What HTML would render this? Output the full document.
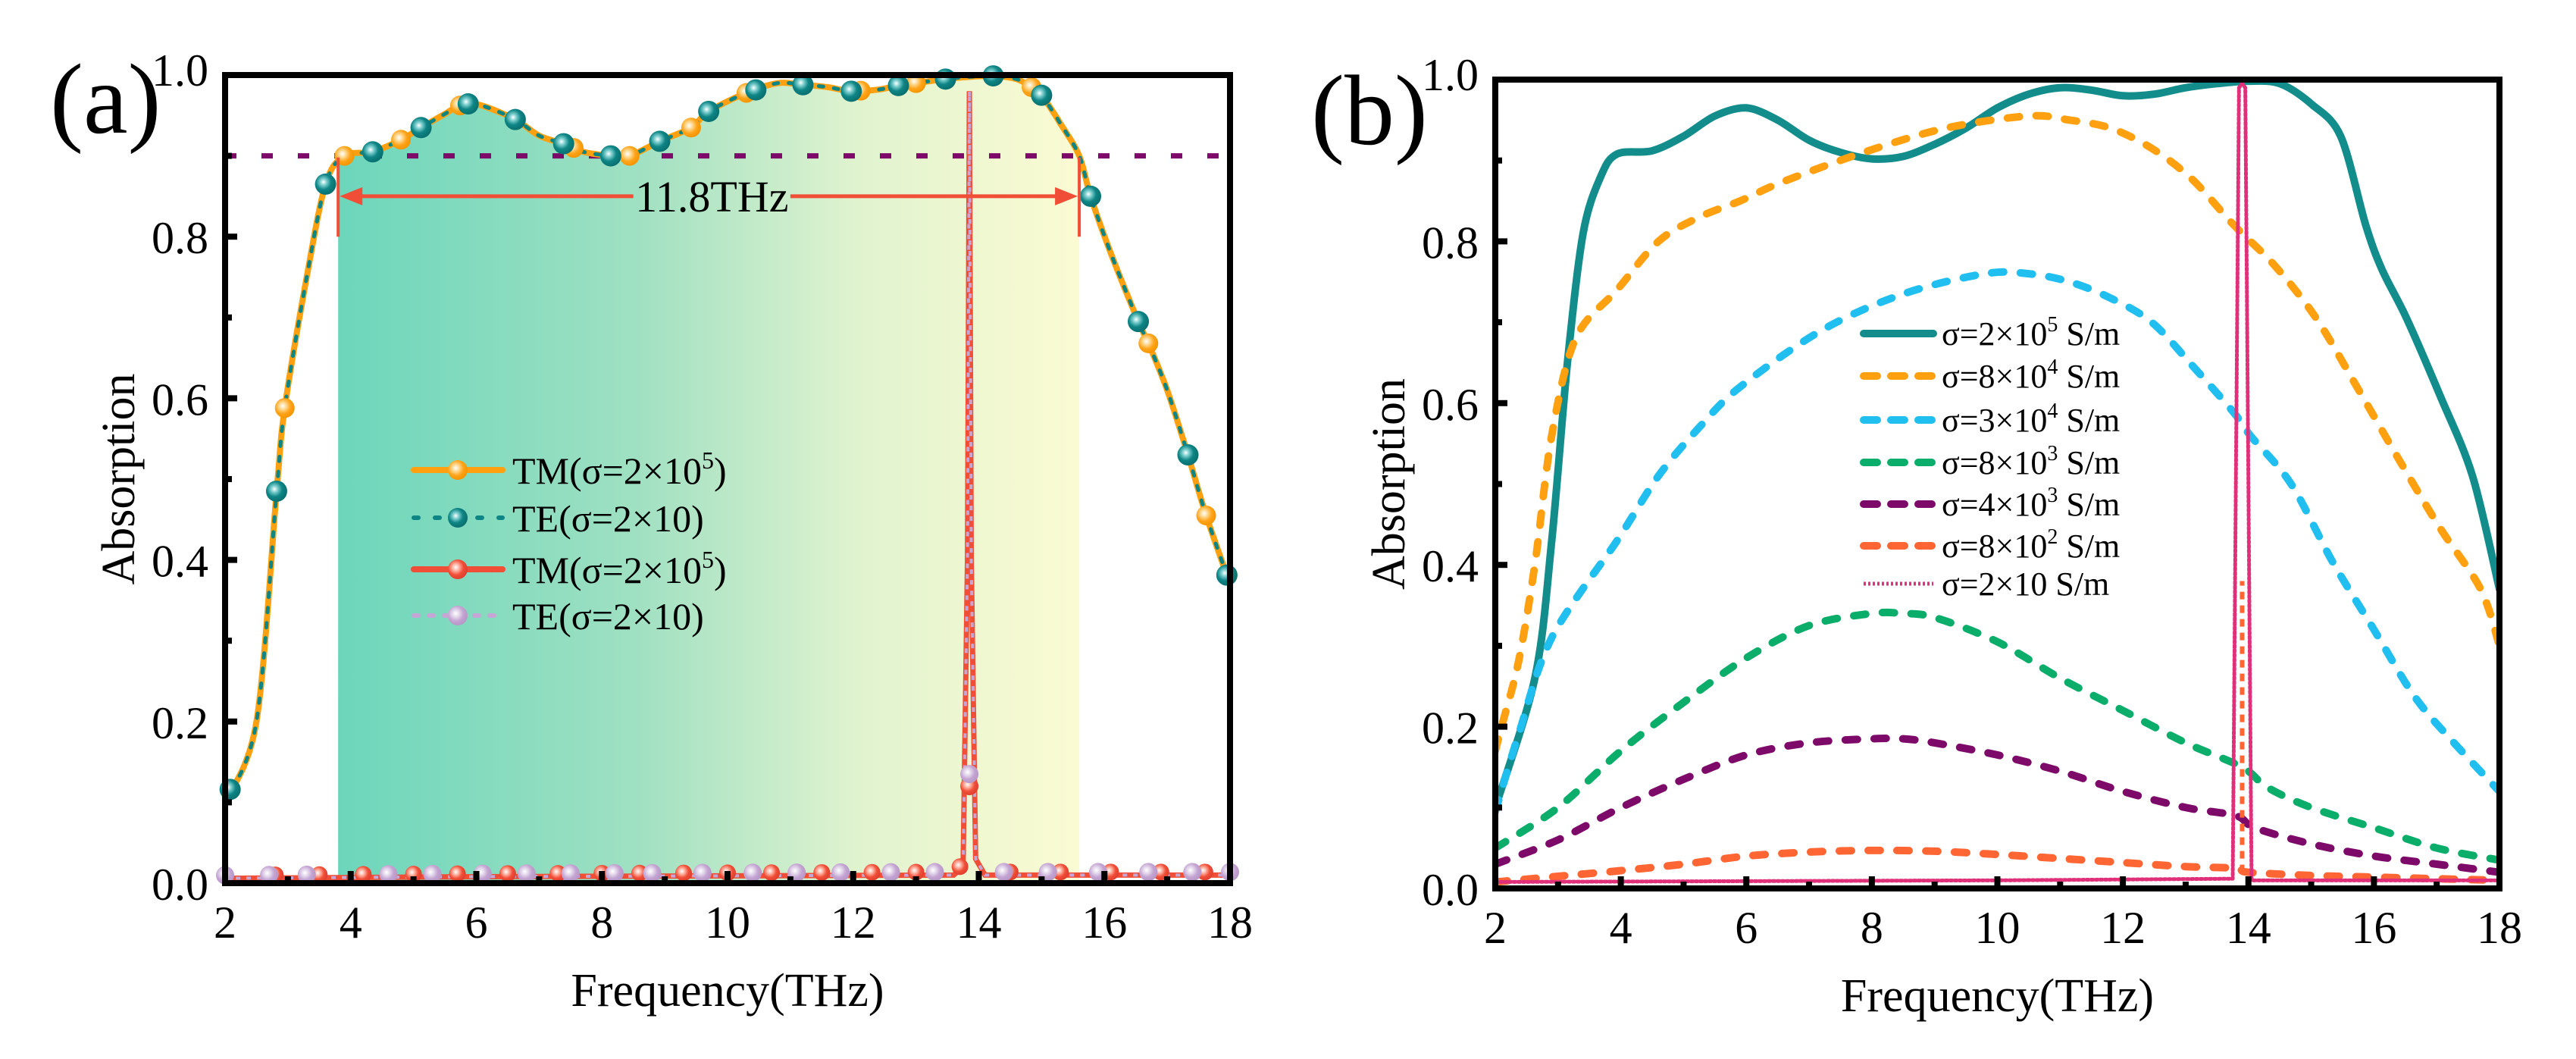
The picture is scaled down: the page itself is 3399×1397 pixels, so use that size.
<!DOCTYPE html>
<html><head><meta charset="utf-8">
<style>
html,body{margin:0;padding:0;background:#fff;}
svg{display:block;font-family:"Liberation Serif","DejaVu Serif",serif;}
svg text{font-family:"Liberation Serif","DejaVu Serif",serif;}
</style></head>
<body>
<svg id="fig" width="3399" height="1397" viewBox="0 0 3399 1397" font-family="Liberation Serif, DejaVu Serif, serif" xmlns="http://www.w3.org/2000/svg">
<defs>
<linearGradient id="bandGrad" gradientUnits="userSpaceOnUse" x1="446" y1="0" x2="1424" y2="0">
<stop offset="0" stop-color="#6cd6bb"/><stop offset="0.4" stop-color="#9fe0c2"/><stop offset="0.7" stop-color="#e0f3cf"/><stop offset="1" stop-color="#fbfbd3"/>
</linearGradient>
<radialGradient id="gTeal" cx="0.4" cy="0.4" r="0.6"><stop offset="0" stop-color="#ffffff"/><stop offset="0.25" stop-color="#7fd0d0"/><stop offset="0.6" stop-color="#0e8585"/><stop offset="1" stop-color="#0a7070"/></radialGradient>
<radialGradient id="gOrange" cx="0.4" cy="0.4" r="0.6"><stop offset="0" stop-color="#ffffff"/><stop offset="0.3" stop-color="#ffd890"/><stop offset="0.65" stop-color="#ffa41a"/><stop offset="1" stop-color="#f59500"/></radialGradient>
<radialGradient id="gRed" cx="0.4" cy="0.4" r="0.6"><stop offset="0" stop-color="#ffffff"/><stop offset="0.3" stop-color="#ffb0a0"/><stop offset="0.65" stop-color="#f04e37"/><stop offset="1" stop-color="#e04030"/></radialGradient>
<radialGradient id="gLilac" cx="0.4" cy="0.4" r="0.6"><stop offset="0" stop-color="#ffffff"/><stop offset="0.3" stop-color="#e4d8ec"/><stop offset="0.65" stop-color="#c3a3d1"/><stop offset="1" stop-color="#b898c8"/></radialGradient>
</defs>
<g id="panelA"></g>
<g id="panelB"></g>
</svg>
<script>
// ---------- Panel (a) data ----------
const aCurveX = [2,2.5,2.82,2.95,3.3,3.6,3.9,4.35,4.8,5.12,5.5,5.8,6.1,6.62,7.0,7.39,7.7,8.14,8.44,8.92,9.42,9.7,10.3,10.8,11.2,11.6,11.97,12.4,12.72,13.0,13.47,13.9,14.23,14.6,14.84,15.0,15.3,15.6,15.78,16.1,16.54,16.7,17.0,17.33,17.62,18];
const aCurveY = [0.1,0.2,0.485,0.588,0.75,0.865,0.9,0.905,0.92,0.935,0.952,0.965,0.962,0.945,0.925,0.915,0.905,0.9,0.9,0.918,0.935,0.955,0.978,0.99,0.988,0.985,0.98,0.982,0.987,0.99,0.995,0.998,0.999,0.995,0.985,0.975,0.94,0.9,0.85,0.78,0.695,0.668,0.61,0.53,0.455,0.37];
const aTealMarkX = [2.08,2.82,3.6,4.35,5.12,5.87,6.62,7.39,8.14,8.92,9.7,10.45,11.2,11.97,12.72,13.47,14.23,15.0,15.78,16.54,17.33,17.95];
const aOrangeMarkX = [2.08,2.95,3.9,4.8,5.74,7.55,8.44,9.42,10.3,12.12,13.0,14.84,16.7,17.62];
const aLowX = [2,6,10,13.6,13.75,13.82,13.85,13.88,13.95,14.1,18];
const aLowY = [0.006,0.008,0.009,0.01,0.02,0.4,0.98,0.4,0.03,0.01,0.01];
const aRedMarkX = [2.8,3.5,4.2,5.0,5.7,6.5,7.3,8.0,8.6,9.3,10.0,10.7,11.5,12.3,13.0,13.7,14.5,15.3,16.1,16.9,17.6];
const aLilacMarkX = [2.0,2.7,3.3,4.6,5.3,6.1,6.8,7.5,8.2,8.8,9.6,10.4,11.1,11.8,12.6,13.3,14.4,15.1,15.9,16.7,17.4,18];
const aSpikeMarkX = [13.85,13.85];
const aSpikeMarkY = [0.12,0.135];
const aThreshold = 0.9;
const aBand = [3.8,15.6];
const aBandLabel = "11.8THz";
const xTicks = [2,4,6,8,10,12,14,16,18];
const yTicks = [0,0.2,0.4,0.6,0.8,1.0];
const yTickLabels = ["0.0","0.2","0.4","0.6","0.8","1.0"];

// ---------- Panel (b) data ----------
const bSeriesNames = ["σ=2×10|5| S/m","σ=8×10|4| S/m","σ=3×10|4| S/m","σ=8×10|3| S/m","σ=4×10|3| S/m","σ=8×10|2| S/m","σ=2×10 S/m"];
const b1X = [2,2.63,2.9,3.15,3.4,3.68,3.94,4.5,5,5.5,6,6.5,7,7.5,8,8.5,9,9.5,10,10.5,11,11.5,12,12.5,13,13.5,14,14.5,15,15.47,15.87,16.13,16.52,17.05,17.57,18];
const b1Y = [0.1,0.26,0.43,0.65,0.81,0.88,0.908,0.912,0.93,0.955,0.965,0.95,0.925,0.91,0.902,0.905,0.92,0.94,0.965,0.982,0.99,0.987,0.98,0.982,0.99,0.995,0.998,0.995,0.97,0.93,0.82,0.765,0.705,0.61,0.51,0.37];
const b2X = [2,2.1,2.37,2.63,2.9,3.28,3.94,4.6,5.25,5.9,6.56,7.87,9.18,10.5,11.15,11.8,12.46,13.1,13.77,14.42,15.08,15.73,16.4,17.05,17.7,18];
const b2Y = [0.17,0.2,0.28,0.4,0.56,0.68,0.74,0.8,0.83,0.85,0.873,0.91,0.94,0.955,0.95,0.94,0.915,0.877,0.82,0.77,0.705,0.62,0.53,0.446,0.37,0.3];
const b3X = [2,2.37,2.9,3.94,4.6,5.25,5.9,7.2,8.5,9.8,10.5,11.15,11.8,12.46,13.1,13.77,14.03,14.68,15.34,16,16.65,17.3,18];
const b3Y = [0.095,0.19,0.31,0.43,0.51,0.57,0.62,0.69,0.735,0.76,0.76,0.75,0.73,0.7,0.647,0.588,0.56,0.5,0.404,0.32,0.237,0.178,0.12];
const b4X = [2,3,4,5,6,7,8,8.5,9,10,11,12,13,13.9,14.3,15,16,17,18];
const b4Y = [0.05,0.1,0.17,0.23,0.285,0.325,0.34,0.34,0.335,0.305,0.26,0.22,0.18,0.15,0.125,0.1,0.075,0.05,0.035];
const b5X = [2,3,4,5,6,7,8,8.5,9,10,11,12,13,13.8,14.1,15,16,17,18];
const b5Y = [0.03,0.06,0.1,0.135,0.165,0.18,0.185,0.185,0.18,0.165,0.145,0.12,0.1,0.09,0.075,0.055,0.04,0.03,0.02];
const b6X = [2,3,4,5,6,7,8,9,10,11,12,13,13.8,14,15,16,17,18];
const b6Y = [0.008,0.015,0.022,0.03,0.04,0.045,0.047,0.046,0.042,0.037,0.032,0.027,0.025,0.02,0.016,0.014,0.012,0.01];
const b7X = [2,10,13.75,13.85,13.9,13.95,14.05,18];
const b7Y = [0.008,0.01,0.012,0.99,0.995,0.99,0.01,0.01];

const NS = "http://www.w3.org/2000/svg";
const FONT = "Liberation Serif, DejaVu Serif, serif";
function mk(tag, attrs, parent){
  const e = document.createElementNS(NS, tag);
  for (const k in attrs) e.setAttribute(k, attrs[k]);
  if (tag === "text") e.setAttribute("font-family", FONT);
  parent.appendChild(e);
  return e;
}
function makeAxes(x0,x1,y0,y1){
  return { sx: f => x0 + (f-2)/16*(x1-x0), sy: v => y0 - v*(y0-y1) };
}
function smoothPath(pts){
  if (pts.length < 2) return "";
  let d = "M" + pts[0][0].toFixed(1) + "," + pts[0][1].toFixed(1);
  for (let i=0;i<pts.length-1;i++){
    const p0 = pts[Math.max(0,i-1)], p1 = pts[i], p2 = pts[i+1], p3 = pts[Math.min(pts.length-1,i+2)];
    const t = 0.16;
    const c1 = [p1[0]+(p2[0]-p0[0])*t, p1[1]+(p2[1]-p0[1])*t];
    const c2 = [p2[0]-(p3[0]-p1[0])*t, p2[1]-(p3[1]-p1[1])*t];
    d += " C"+c1[0].toFixed(1)+","+c1[1].toFixed(1)+" "+c2[0].toFixed(1)+","+c2[1].toFixed(1)+" "+p2[0].toFixed(1)+","+p2[1].toFixed(1);
  }
  return d;
}
function interp(xs, ys, x){
  for (let i=0;i<xs.length-1;i++){
    if (x>=xs[i] && x<=xs[i+1]) return ys[i] + (ys[i+1]-ys[i])*(x-xs[i])/(xs[i+1]-xs[i]);
  }
  return x<xs[0]?ys[0]:ys[ys.length-1];
}
function drawFrame(g, ax, x0,x1,y0,y1, panelLabel, labX, labY){
  xTicks.forEach((t,i)=>{
    const X = ax.sx(t);
    const tk = mk("line",{x1:X,y1:y0,x2:X,y2:y0-16,stroke:"#000","stroke-width":8},g);
    
    
    const lb = mk("text",{x:X,y:y0+72,"font-size":60,"text-anchor":"middle",fill:"#000"},g);
    lb.textContent = String(t);
    
    
    if (i<xTicks.length-1){
      const Xm = ax.sx(t+1);
      const mt = mk("line",{x1:Xm,y1:y0,x2:Xm,y2:y0-9,stroke:"#000","stroke-width":8},g);
      
      
    }
  });
  yTicks.forEach((t,i)=>{
    const Y = ax.sy(t);
    const tk = mk("line",{x1:x0,y1:Y,x2:x0+16,y2:Y,stroke:"#000","stroke-width":8},g);
    
    
    const lb = mk("text",{x:x0-22,y:(i===yTicks.length-1? Y+14 : Y+22),"font-size":60,"text-anchor":"end",fill:"#000"},g);
    lb.textContent = yTickLabels[i];
    
    
    if (i<yTicks.length-1){
      const Ym = ax.sy(t+0.1);
      const mt = mk("line",{x1:x0,y1:Ym,x2:x0+9,y2:Ym,stroke:"#000","stroke-width":8},g);
      
      
    }
  });
  const fr = mk("rect",{x:x0,y:y1,width:x1-x0,height:y0-y1,fill:"none",stroke:"#000","stroke-width":8},g);
  
  
  const xt = mk("text",{x:(x0+x1)/2,y:y0+162,"font-size":62,"text-anchor":"middle",fill:"#000"},g);
  xt.textContent = "Frequency(THz)";
  
  
  const yt = mk("text",{x:0,y:0,"font-size":62,"text-anchor":"middle",fill:"#000",transform:"translate("+(x0-120)+","+((y0+y1)/2)+") rotate(-90)"},g);
  yt.textContent = "Absorption";
  
  
  const pl = mk("text",{x:labX,y:labY,"font-size":132,fill:"#000"},g);
  pl.textContent = panelLabel;
  
  
}
function ball(g, X, Y, grad, r){
  const c = mk("circle",{cx:X,cy:Y,r:r,fill:"url(#"+grad+")"},g);
  
  
  return c;
}

// ================= Panel A =================
(function(){
  const g = document.getElementById("panelA");
  const x0=297,x1=1623,y0=1165,y1=99;
  const ax = makeAxes(x0,x1,y0,y1);
  const bx = [aBand[0]].concat(aCurveX.filter(x=>x>aBand[0]&&x<aBand[1])).concat([aBand[1]]);
  const bpts = bx.map(x=>[ax.sx(x), ax.sy(interp(aCurveX,aCurveY,x))]);
  let d = smoothPath(bpts) + " L"+ax.sx(aBand[1])+","+y0+" L"+ax.sx(aBand[0])+","+y0+" Z";
  const band = mk("path",{d:d,fill:"url(#bandGrad)"},g);
  
  
  const th = mk("line",{x1:x0,y1:ax.sy(aThreshold),x2:x1,y2:ax.sy(aThreshold),stroke:"#7d0a68","stroke-width":7,"stroke-dasharray":"15 33"},g);
  
  
  const pts = aCurveX.map((x,i)=>[ax.sx(x),ax.sy(aCurveY[i])]);
  const tm = mk("path",{d:smoothPath(pts),fill:"none",stroke:"#ffa010","stroke-width":8,"stroke-linejoin":"round"},g);
  
  
  const te = mk("path",{d:smoothPath(pts),fill:"none",stroke:"#0e8585","stroke-width":5,"stroke-dasharray":"6 14","stroke-linecap":"round"},g);
  
  
  aOrangeMarkX.forEach(x=>ball(g,ax.sx(x),ax.sy(interp(aCurveX,aCurveY,x)),"gOrange",13));
  aTealMarkX.forEach(x=>ball(g,ax.sx(x),ax.sy(interp(aCurveX,aCurveY,x)),"gTeal",14));
  const lp = aLowX.map((x,i)=>[ax.sx(x),ax.sy(aLowY[i])]);
  const lr = mk("polyline",{points:lp.map(p=>p.join(",")).join(" "),fill:"none",stroke:"#f04e37","stroke-width":7},g);
  
  
  const ll = mk("polyline",{points:lp.map(p=>p.join(",")).join(" "),fill:"none",stroke:"#c6a6d4","stroke-width":4,"stroke-dasharray":"6 8"},g);
  
  
  aRedMarkX.forEach(x=>ball(g,ax.sx(x),ax.sy(interp(aLowX,aLowY,x))-4,"gRed",11));
  aLilacMarkX.forEach(x=>ball(g,ax.sx(x),ax.sy(interp(aLowX,aLowY,x))-4,"gLilac",12));
  ball(g,ax.sx(aSpikeMarkX[0]),ax.sy(aSpikeMarkY[0]),"gRed",12);
  ball(g,ax.sx(aSpikeMarkX[1]),ax.sy(aSpikeMarkY[1]),"gLilac",12);
  const ay = ax.sy(0.85), lx = ax.sx(aBand[0]), rx = ax.sx(aBand[1]);
  const ann = mk("g",{},g);
  
  
  mk("line",{x1:lx,y1:ax.sy(0.898),x2:lx,y2:ax.sy(0.8),stroke:"#f04e37","stroke-width":4},ann);
  mk("line",{x1:rx,y1:ax.sy(0.898),x2:rx,y2:ax.sy(0.8),stroke:"#f04e37","stroke-width":4},ann);
  mk("line",{x1:lx+20,y1:ay,x2:ax.sx(8.5),y2:ay,stroke:"#f04e37","stroke-width":5},ann);
  mk("line",{x1:ax.sx(11.0),y1:ay,x2:rx-20,y2:ay,stroke:"#f04e37","stroke-width":5},ann);
  mk("polygon",{points:(lx+2)+","+ay+" "+(lx+32)+","+(ay-12)+" "+(lx+32)+","+(ay+12),fill:"#f04e37"},ann);
  mk("polygon",{points:(rx-2)+","+ay+" "+(rx-32)+","+(ay-12)+" "+(rx-32)+","+(ay+12),fill:"#f04e37"},ann);
  const at = mk("text",{x:ax.sx(9.75),y:ay+20,"font-size":58,"text-anchor":"middle",fill:"#000"},ann);
  at.textContent = aBandLabel;
  const lg = mk("g",{},g);
  
  
  const legY = [620,683,751,812];
  const legCols = ["#ffa010","#0e8585","#f04e37","#c6a6d4"];
  const legGrad = ["gOrange","gTeal","gRed","gLilac"];
  const legDash = ["none","6 22","none","6 14"];
  const legTxt = [["TM(σ=2×10","5",")"],["TE(σ=2×10)","",""],["TM(σ=2×10","5",")"],["TE(σ=2×10)","",""]];
  legY.forEach((Y,i)=>{
    const e = mk("g",{},lg);
    
    
    mk("line",{x1:546,y1:Y,x2:663,y2:Y,stroke:legCols[i],"stroke-width":(legDash[i]==="none"?8:6),"stroke-dasharray":legDash[i],"stroke-linecap":"round"},e);
    mk("circle",{cx:604,cy:Y,r:13,fill:"url(#"+legGrad[i]+")"},e);
    const t = mk("text",{x:676,y:Y+18,"font-size":50,fill:"#000"},e);
    t.textContent = legTxt[i][0];
    if (legTxt[i][1]){
      const s = mk("tspan",{dy:-20,"font-size":32},t); s.textContent = legTxt[i][1];
      const s2 = mk("tspan",{dy:20,"font-size":50},t); s2.textContent = legTxt[i][2];
    }
  });
  drawFrame(g, ax, x0,x1,y0,y1, "(a)", 66, 175);
})();

// ================= Panel B =================
(function(){
  const g = document.getElementById("panelB");
  const x0=1973,x1=3298,y0=1172,y1=105;
  const ax = makeAxes(x0,x1,y0,y1);
  const clip = mk("clipPath",{id:"clipB"},g);
  mk("rect",{x:x0,y:y1,width:x1-x0,height:y0-y1},clip);
  const series = [
    {x:b1X,y:b1Y,c:"#138c8c",dash:"none",w:10,name:"series-2e5"},
    {x:b2X,y:b2Y,c:"#ffa010",dash:"16 22",w:10,name:"series-8e4"},
    {x:b3X,y:b3Y,c:"#20bff0",dash:"16 22",w:10,name:"series-3e4"},
    {x:b4X,y:b4Y,c:"#0aad6a",dash:"16 22",w:10,name:"series-8e3"},
    {x:b5X,y:b5Y,c:"#7d0a68",dash:"16 22",w:10,name:"series-4e3"},
    {x:b6X,y:b6Y,c:"#ff6633",dash:"16 22",w:10,name:"series-8e2"},
    {x:b7X,y:b7Y,c:"#e0307a",dash:"3 3",w:5,name:"series-2e1"}
  ];
  const cg = mk("g",{"clip-path":"url(#clipB)"},g);
  series.forEach(s=>{
    const pts = s.x.map((x,i)=>[ax.sx(x),ax.sy(s.y[i])]);
    const d = s.name==="series-2e1" ? "M"+pts.map(p=>p.join(",")).join(" L") : smoothPath(pts);
    const p = mk("path",{d:d,fill:"none",stroke:s.c,"stroke-width":s.w,"stroke-dasharray":s.dash,"stroke-linecap":"round","stroke-linejoin":"round"},cg);
    
    
  });
  const spike = mk("line",{x1:ax.sx(13.9),y1:ax.sy(0.02),x2:ax.sx(13.9),y2:ax.sy(0.38),stroke:"#ff6633","stroke-width":6,"stroke-dasharray":"10 8"},cg);
  
  
  const lg = mk("g",{},g);
  
  
  const legY = [440,496,554,610,665,720,770];
  bSeriesNames.forEach((nm,i)=>{
    const e = mk("g",{},lg);
    
    
    const s = series[i];
    mk("line",{x1:2459,y1:legY[i],x2:2551,y2:legY[i],stroke:s.c,"stroke-width":s.w,"stroke-dasharray":(s.dash==="none"?"none":(i===6?"3 3":"18 18")),"stroke-linecap":(i===6?"butt":"round")},e);
    const parts = nm.split("|");
    const t = mk("text",{x:2562,y:legY[i]+15,"font-size":44,fill:"#000"},e);
    t.textContent = parts[0];
    if (parts.length>1){
      const sp = mk("tspan",{dy:-18,"font-size":28},t); sp.textContent = parts[1];
      const sp2 = mk("tspan",{dy:18,"font-size":44},t); sp2.textContent = parts[2];
    }
  });
  drawFrame(g, ax, x0,x1,y0,y1, "(b)", 1730, 190);
})();
</script>
</body></html>
